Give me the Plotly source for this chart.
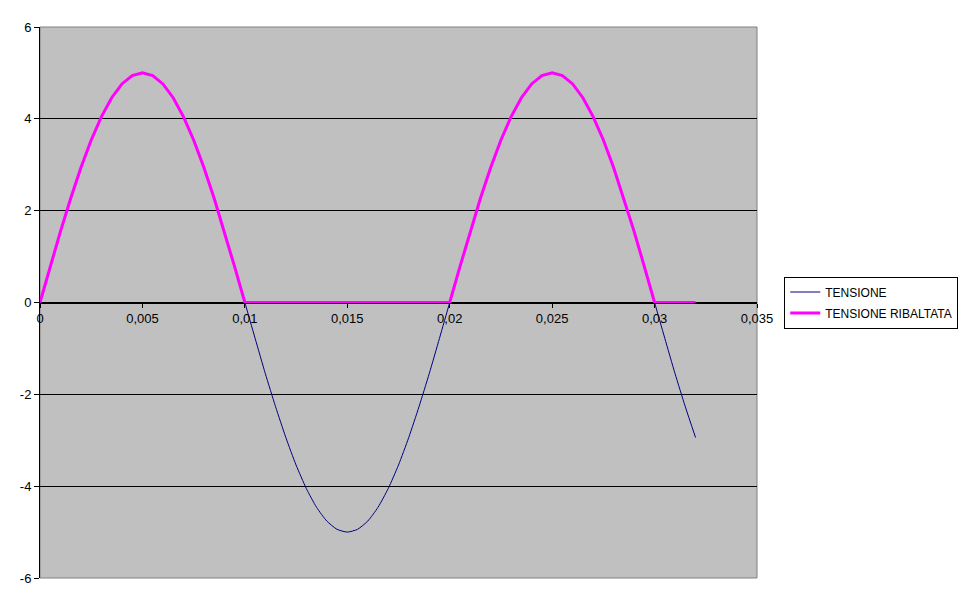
import plotly.graph_objects as go

# tempo (s), passo 0.0005
tempo = [round(i * 0.0005, 4) for i in range(65)]

tensione = [
    0, 0.78, 1.55, 2.27, 2.94, 3.54, 4.05, 4.46, 4.76, 4.94,
    5, 4.94, 4.76, 4.46, 4.05, 3.54, 2.94, 2.27, 1.55, 0.78,
    0, -0.78, -1.55, -2.27, -2.94, -3.54, -4.05, -4.46, -4.76, -4.94,
    -5, -4.94, -4.76, -4.46, -4.05, -3.54, -2.94, -2.27, -1.55, -0.78,
    0, 0.78, 1.55, 2.27, 2.94, 3.54, 4.05, 4.46, 4.76, 4.94,
    5, 4.94, 4.76, 4.46, 4.05, 3.54, 2.94, 2.27, 1.55, 0.78,
    0, -0.78, -1.55, -2.27, -2.94,
]

tensione_ribaltata = [
    0, 0.78, 1.55, 2.27, 2.94, 3.54, 4.05, 4.46, 4.76, 4.94,
    5, 4.94, 4.76, 4.46, 4.05, 3.54, 2.94, 2.27, 1.55, 0.78,
    0, 0, 0, 0, 0, 0, 0, 0, 0, 0,
    0, 0, 0, 0, 0, 0, 0, 0, 0, 0,
    0, 0.78, 1.55, 2.27, 2.94, 3.54, 4.05, 4.46, 4.76, 4.94,
    5, 4.94, 4.76, 4.46, 4.05, 3.54, 2.94, 2.27, 1.55, 0.78,
    0, 0, 0, 0, 0,
]

x_ticks = [0, 0.005, 0.01, 0.015, 0.02, 0.025, 0.03, 0.035]
y_ticks = [-6, -4, -2, 0, 2, 4, 6]

font = dict(family="Liberation Sans, Arial, sans-serif", size=13, color="black")
legend_font = dict(family="Liberation Sans, Arial, sans-serif", size=12, color="black")

fig = go.Figure()
fig.add_trace(go.Scatter(x=tempo, y=tensione, mode="lines", name="TENSIONE", legendgroup="a",
                         line=dict(color="#000080", width=1, shape="spline", smoothing=0.6)))
fig.add_trace(go.Scatter(x=tempo, y=tensione_ribaltata, mode="lines", name="TENSIONE RIBALTATA",
                         legendgroup="b", line=dict(color="#FF00FF", width=3)))

# la pagina ha un margine di 8px: figura più piccola e margini compensati
fig.update_layout(
    width=962, height=596,
    margin=dict(l=30, r=212, t=18, b=26),
    paper_bgcolor="white",
    plot_bgcolor="#C0C0C0",
    separators=", ",
    font=font,
    showlegend=True,
    legend=dict(x=1.038, y=0.5, xanchor="left", yanchor="middle",
                bordercolor="black", borderwidth=1, bgcolor="white",
                font=legend_font, tracegroupgap=2, itemwidth=30),
    xaxis=dict(range=[0, 0.035], tickvals=x_ticks, ticktext=[str(v).replace(".", ",") for v in x_ticks],
               showgrid=False, zeroline=False, showline=True, linecolor="black", linewidth=1,
               ticks="outside", ticklen=4, tickcolor="black",
               anchor="free", position=0.5, tickfont=font),
    yaxis=dict(range=[-6, 6], tickvals=y_ticks, ticktext=[str(v) for v in y_ticks],
               showgrid=True, gridcolor="black", gridwidth=1,
               zeroline=False, showline=True, linecolor="black", linewidth=1,
               ticks="outside", ticklen=5, tickcolor="black", tickfont=font),
)

# bordo grigio dell'area del grafico
fig.add_shape(type="rect", xref="paper", yref="paper", x0=0, y0=0, x1=1, y1=1,
              line=dict(color="#808080", width=1), layer="below")

fig.write_html("out.html")
